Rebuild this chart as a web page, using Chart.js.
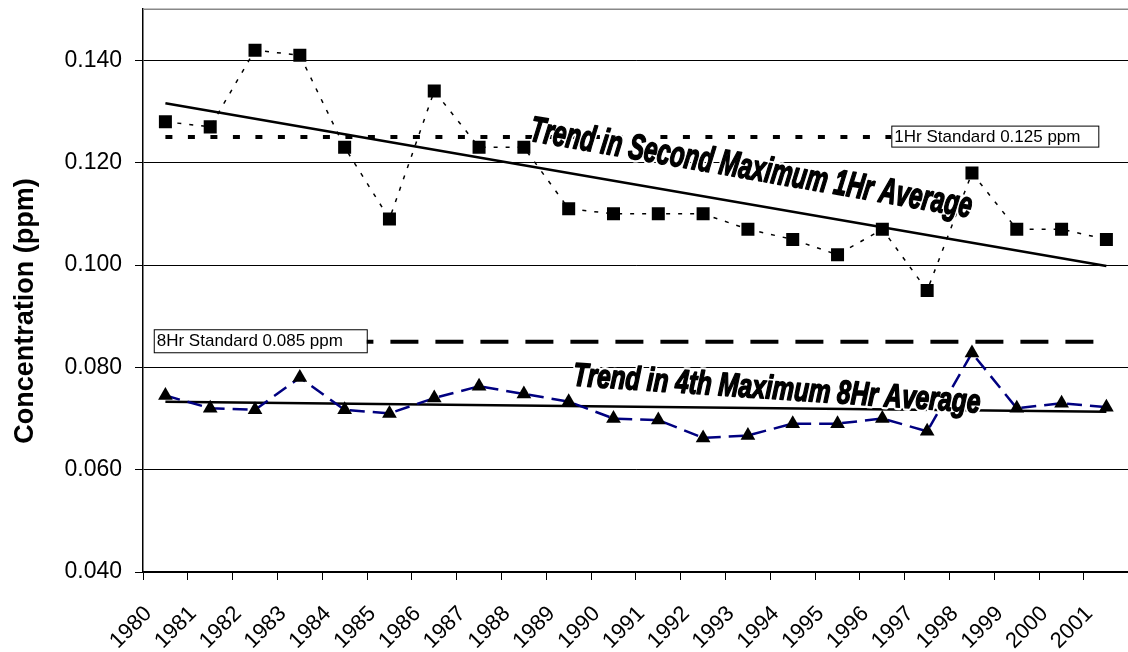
<!DOCTYPE html>
<html>
<head>
<meta charset="utf-8">
<script src="https://cdn.jsdelivr.net/npm/chart.js@4.4.1/dist/chart.umd.min.js"></script>
<style>
  html, body { margin: 0; padding: 0; background: #fff; overflow: hidden; }
  .chart-container { position: relative; width: 1138px; height: 652px; }
</style>
</head>
<body>
<div class="chart-container"><canvas id="myChart"></canvas></div>
<script>
const years = ["1980", "1981", "1982", "1983", "1984", "1985", "1986", "1987", "1988", "1989", "1990",
  "1991", "1992", "1993", "1994", "1995", "1996", "1997", "1998", "1999", "2000", "2001"];
const secondMax1Hr = [0.128, 0.127, 0.142, 0.141, 0.123, 0.109, 0.134, 0.123, 0.123, 0.111, 0.110,
  0.110, 0.110, 0.107, 0.105, 0.102, 0.107, 0.095, 0.118, 0.107, 0.107, 0.105];
const fourthMax8Hr = [0.0745, 0.072, 0.0717, 0.078, 0.0717, 0.071, 0.074, 0.0763, 0.0748, 0.0733, 0.070,
  0.0697, 0.0662, 0.0667, 0.069, 0.069, 0.070, 0.0675, 0.0828, 0.072, 0.073, 0.0722];
// trend lines, read at first and last year
const trend1Hr = [0.1316, 0.0998];
const trend8Hr = [0.0733, 0.0713];
const standard1Hr = 0.125;
const standard8Hr = 0.085;
const yTicks = [0.040, 0.060, 0.080, 0.100, 0.120, 0.140];
const standardLabels = ["1Hr Standard 0.125 ppm", "8Hr Standard 0.085 ppm"];
const trendLabels = ["Trend in Second Maximum 1Hr Average", "Trend in 4th Maximum 8Hr Average"];
const yTitle = "Concentration (ppm)";

const ends = (a, b) => [{ x: years[0], y: a }, { x: years[years.length - 1], y: b }];

const drawBox = (ctx, text, left, cy, w, h) => {
  ctx.fillStyle = "#fff";
  ctx.fillRect(left, cy - h / 2, w, h);
  ctx.strokeStyle = "#000";
  ctx.lineWidth = 1;
  ctx.strokeRect(left + 0.5, cy - h / 2 + 0.5, w, h);
  ctx.fillStyle = "#000";
  ctx.font = "17px 'Liberation Sans', Arial, sans-serif";
  ctx.textAlign = "left";
  ctx.textBaseline = "middle";
  ctx.fillText(text, left + 3, cy + 1);
};

const drawSlanted = (ctx, text, cx, cy, angle, length, size) => {
  ctx.save();
  ctx.translate(cx, cy);
  ctx.rotate(angle * Math.PI / 180);
  ctx.font = "italic bold " + size + "px 'Liberation Sans Narrow', 'Liberation Sans', Arial, sans-serif";
  const w = ctx.measureText(text).width;
  ctx.scale(length / w, 1);
  ctx.textAlign = "center";
  ctx.textBaseline = "alphabetic";
  ctx.lineJoin = "round";
  ctx.strokeStyle = "#fff";
  ctx.lineWidth = 6;
  ctx.strokeText(text, 0, 0);
  ctx.fillStyle = "#000";
  ctx.fillText(text, 0, 0);
  ctx.strokeStyle = "#000";
  ctx.lineWidth = 1.6;
  ctx.strokeText(text, 0, 0);
  ctx.restore();
};

const extras = {
  id: "extras",
  afterDatasetsDraw(chart) {
    const { ctx, chartArea: area, scales: { x, y } } = chart;
    ctx.save();
    ctx.strokeStyle = "#888";
    ctx.lineWidth = 1.5;
    ctx.beginPath();
    ctx.moveTo(area.left, area.top);
    ctx.lineTo(area.right, area.top);
    ctx.stroke();

    drawSlanted(ctx, trendLabels[0], x.getPixelForValue(13.03), y.getPixelForValue(0.1168), 9.9, 448, 36);
    drawSlanted(ctx, trendLabels[1], x.getPixelForValue(13.63), y.getPixelForValue(0.0738), 3.8, 408, 33);

    drawBox(ctx, standardLabels[0], x.getPixelForValue(16.2), y.getPixelForValue(standard1Hr) - 1, 207, 21);
    drawBox(ctx, standardLabels[1], x.getPixelForValue(-0.26), y.getPixelForValue(standard8Hr) - 1, 213, 23);

    ctx.translate(26, 311);
    ctx.rotate(-Math.PI / 2);
    ctx.font = "bold 27px 'Liberation Sans', Arial, sans-serif";
    ctx.textAlign = "center";
    ctx.textBaseline = "middle";
    ctx.fillStyle = "#000";
    ctx.fillText(yTitle, 0, 0);
    ctx.restore();
  }
};

new Chart(document.getElementById("myChart"), {
  type: "line",
  data: {
    labels: years,
    datasets: [
      {
        label: "Second Maximum 1Hr Average",
        data: secondMax1Hr,
        borderColor: "#000",
        borderWidth: 1.5,
        borderDash: [4, 8],
        pointStyle: "rect",
        pointRadius: 9.2,
        pointBackgroundColor: "#000",
        pointBorderWidth: 0,
        order: 1,
      },
      {
        label: "4th Maximum 8Hr Average",
        data: fourthMax8Hr,
        borderColor: "#000080",
        borderWidth: 2.5,
        borderDash: [15, 8],
        pointStyle: "triangle",
        pointRadius: 8.5,
        pointBackgroundColor: "#000",
        pointBorderColor: "#000",
        pointBorderWidth: 0,
        order: 2,
      },
      {
        label: "Trend 1Hr",
        data: ends(trend1Hr[0], trend1Hr[1]),
        borderColor: "#000",
        borderWidth: 2.5,
        pointRadius: 0,
        order: 3,
      },
      {
        label: "Trend 8Hr",
        data: ends(trend8Hr[0], trend8Hr[1]),
        borderColor: "#000",
        borderWidth: 2.5,
        pointRadius: 0,
        order: 4,
      },
      {
        label: "1Hr Standard",
        data: ends(standard1Hr, standard1Hr),
        borderColor: "#000",
        borderWidth: 4,
        borderDash: [7, 15.5],
        borderCapStyle: "butt",
        pointRadius: 0,
        order: 5,
      },
      {
        label: "8Hr Standard",
        data: ends(standard8Hr, standard8Hr),
        borderColor: "#000",
        borderWidth: 4,
        borderDash: [28, 17],
        pointRadius: 0,
        order: 6,
      },
    ],
  },
  options: {
    responsive: true,
    maintainAspectRatio: false,
    animation: false,
    layout: { padding: { top: 8, left: 0, right: 0, bottom: 0 } },
    plugins: { legend: { display: false }, tooltip: { enabled: false } },
    elements: { line: { tension: 0, fill: false } },
    scales: {
      x: {
        offset: true,
        grid: { offset: true, drawOnChartArea: false, drawTicks: true, tickLength: 8, color: "#000", lineWidth: 1 },
        border: { color: "#000", width: 1.5 },
        ticks: {
          color: "#000",
          font: { family: "'Liberation Sans', Arial, sans-serif", size: 22 },
          minRotation: 45,
          maxRotation: 45,
          autoSkip: false,
          padding: 21,
          labelOffset: -17,
        },
        afterFit(scale) {
          scale.height = 80;
          scale.paddingLeft = 0;
          scale.paddingRight = 0;
        },
      },
      y: {
        min: 0.04,
        max: 0.15,
        grid: { color: "#000", lineWidth: 1, tickLength: 8 },
        border: { color: "#000", width: 1.5 },
        ticks: {
          color: "#000",
          font: { family: "'Liberation Sans', Arial, sans-serif", size: 23 },
          padding: 13,
          callback: (v) => v.toFixed(3),
        },
        afterBuildTicks(scale) {
          scale.ticks = yTicks.map((v) => ({ value: v }));
        },
        afterFit(scale) {
          scale.width = 143;
          scale.paddingTop = 0;
          scale.paddingBottom = 0;
        },
      },
    },
  },
  plugins: [extras],
});
</script>
</body>
</html>
